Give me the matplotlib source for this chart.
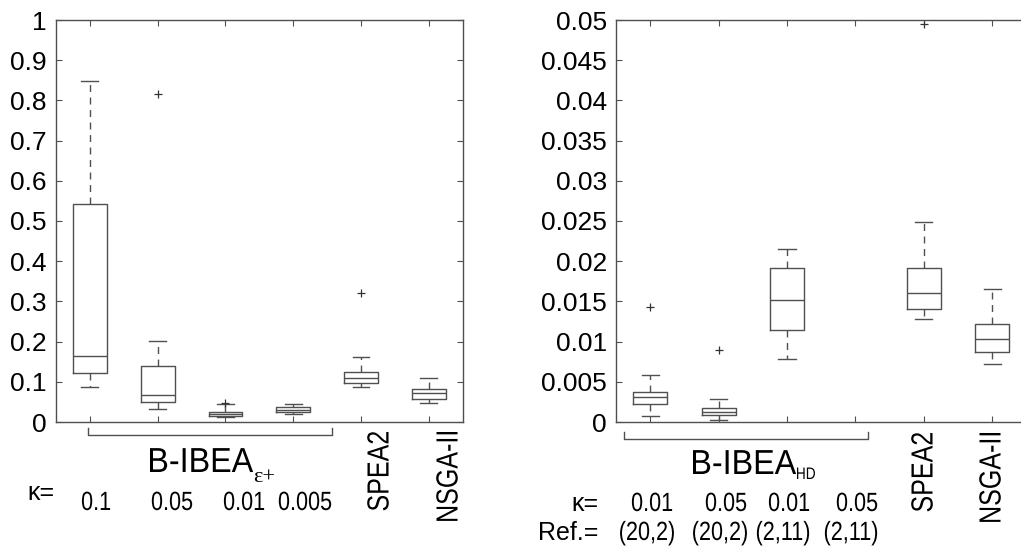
import numpy as np
import matplotlib
matplotlib.use("Agg")
import matplotlib.pyplot as plt
from matplotlib.lines import Line2D
from matplotlib.textpath import TextPath
from matplotlib.patches import PathPatch
from matplotlib.font_manager import FontProperties
from matplotlib.transforms import Affine2D

W, H = 1021, 548

# left panel: B-IBEA eps+ (kappa 0.1, 0.05, 0.01, 0.005), SPEA2, NSGA-II
eps_q1 = [0.121, 0.049, 0.016, 0.025, 0.096, 0.058]
eps_med = [0.163, 0.066, 0.020, 0.031, 0.109, 0.071]
eps_q3 = [0.543, 0.140, 0.025, 0.037, 0.124, 0.081]
eps_lo = [0.088, 0.032, 0.013, 0.021, 0.086, 0.048]
eps_hi = [0.848, 0.202, 0.044, 0.044, 0.162, 0.109]
eps_out = [[], [0.815], [0.048], [], [0.320], []]

# right panel: B-IBEA HD (4th setting has no box), SPEA2, NSGA-II
hd_q1 = [0.00224, 0.00083, 0.0114, None, 0.01409, 0.0087]
hd_med = [0.00307, 0.00128, 0.01521, None, 0.0160, 0.01029]
hd_q3 = [0.00377, 0.0017, 0.01912, None, 0.01919, 0.01215]
hd_lo = [0.0007, 0.00025, 0.0078, None, 0.01281, 0.00717]
hd_hi = [0.0058, 0.00286, 0.02148, None, 0.02484, 0.01654]
hd_out = [[0.01434], [0.00892], [], [], [0.0495], []]

eps_kappa = ["0.1", "0.05", "0.01", "0.005"]
hd_kappa = ["0.01", "0.05", "0.01", "0.05"]
hd_ref = ["(20,2)", "(20,2)", "(2,11)", "(2,11)"]
others = ["SPEA2", "NSGA-II"]

GRAY = "#505050"
plt.rcParams["font.family"] = ["Liberation Sans", "DejaVu Sans"]


def px(x, y):
    # pixel position (from top-left) -> figure fraction
    return x / W, 1 - y / H


def draw_boxes(ax, q1, med, q3, lo, hi, out):
    stats, pos = [], []
    for i in range(len(q1)):
        if q1[i] is None:
            continue
        stats.append(dict(q1=q1[i], med=med[i], q3=q3[i], whislo=lo[i],
                          whishi=hi[i], fliers=out[i]))
        pos.append(i + 1)
    ax.bxp(stats, positions=pos, widths=0.5, capwidths=0.25, showfliers=True,
           boxprops=dict(color=GRAY, lw=1),
           medianprops=dict(color=GRAY, lw=1),
           whiskerprops=dict(color=GRAY, lw=1, ls=(0, (5, 4))),
           capprops=dict(color=GRAY, lw=1),
           flierprops=dict(marker="+", markeredgecolor="#333333",
                           markersize=6, markeredgewidth=0.9))


def style(ax, top, step, right=True):
    ax.set_xlim(0.5, 6.5)
    ax.set_ylim(0, top)
    ticks = np.round(np.arange(0, top + step / 2, step), 4)
    ax.set_yticks(ticks)
    ax.set_yticklabels([f"{t:g}" for t in ticks], fontsize=19)
    ax.set_xticks(range(1, 7))
    ax.set_xticklabels([])
    ax.tick_params(direction="in", top=True, right=right, length=4,
                   color=GRAY, width=0.8, pad=6.5)
    for s in ax.spines.values():
        s.set_color(GRAY)
        s.set_linewidth(1)


fig = plt.figure(figsize=(W / 100, H / 100), dpi=100)

ax1 = fig.add_axes([56 / W, 126 / H, 406.7 / W, 402 / H])
draw_boxes(ax1, eps_q1, eps_med, eps_q3, eps_lo, eps_hi, eps_out)
style(ax1, 1.0, 0.1)

ax2 = fig.add_axes([616 / W, 126 / H, 410.4 / W, 402 / H])
draw_boxes(ax2, hd_q1, hd_med, hd_q3, hd_lo, hd_hi, hd_out)
style(ax2, 0.05, 0.005, right=False)


def bracket(x0, x1, y, up):
    xs = [x0, x0, x1, x1]
    ys = [y - up, y, y, y - up]
    pts = [px(a, b) for a, b in zip(xs, ys)]
    fig.add_artist(Line2D([p[0] for p in pts], [p[1] for p in pts],
                          transform=fig.transFigure, color=GRAY, lw=1))


def label(x, y, s, **kw):
    fx, fy = px(x, y)
    fig.text(fx, fy, s, **kw)


def narrow(x, y, s, pt, ha="left", rot=False, sx=0.82, family="Liberation Sans"):
    # condensed text (like Arial Narrow): glyph outlines squeezed horizontally,
    # placed in pixel coords; y is the baseline (or the top end if rotated)
    path = TextPath((0, 0), s, size=pt * 100 / 72, prop=FontProperties(family=family))
    ext = path.get_extents()
    if rot:
        t = Affine2D().translate(-ext.x1, -(ext.y0 + ext.y1) / 2).scale(sx, 1).rotate_deg(90)
    else:
        dx = {"left": -ext.x0, "center": -(ext.x0 + ext.x1) / 2, "right": -ext.x1}[ha]
        t = Affine2D().translate(dx, 0).scale(sx, 1)
    t = t.translate(x, H - y)
    fig.add_artist(PathPatch(path, transform=t, facecolor="black",
                             edgecolor="none", lw=0))


# left panel labels
bracket(87.7, 331.7, 435, 7)
narrow(150, 472, "B-IBEA", 25, sx=0.93)
label(253, 482, "ε+", fontsize=16, family=["Liberation Serif", "DejaVu Serif"],
      ha="left", va="baseline")
label(27, 500, "κ=", fontsize=18, ha="left", va="baseline")
for x, s in zip([96, 172, 244, 305], eps_kappa):
    narrow(x, 510, s, 19, ha="center")
for x, s in zip([378, 447], others):
    narrow(x, 432, s, 22, rot=True)

# right panel labels
bracket(624, 868, 439, 7)
narrow(693, 474, "B-IBEA", 25, sx=0.93)
narrow(797, 479, "HD", 12)
label(598, 511, "κ=", fontsize=18, ha="right", va="baseline")
label(598, 540, "Ref.=", fontsize=18, ha="right", va="baseline")
for x, s in zip([652, 726, 789, 857], hd_kappa):
    narrow(x, 511, s, 19, ha="center")
for x, s in zip([647, 720, 783, 851], hd_ref):
    narrow(x, 540, s, 19, ha="center")
for x, s in zip([922, 990], others):
    narrow(x, 433, s, 22, rot=True)

fig.savefig("out.png", dpi=100)
